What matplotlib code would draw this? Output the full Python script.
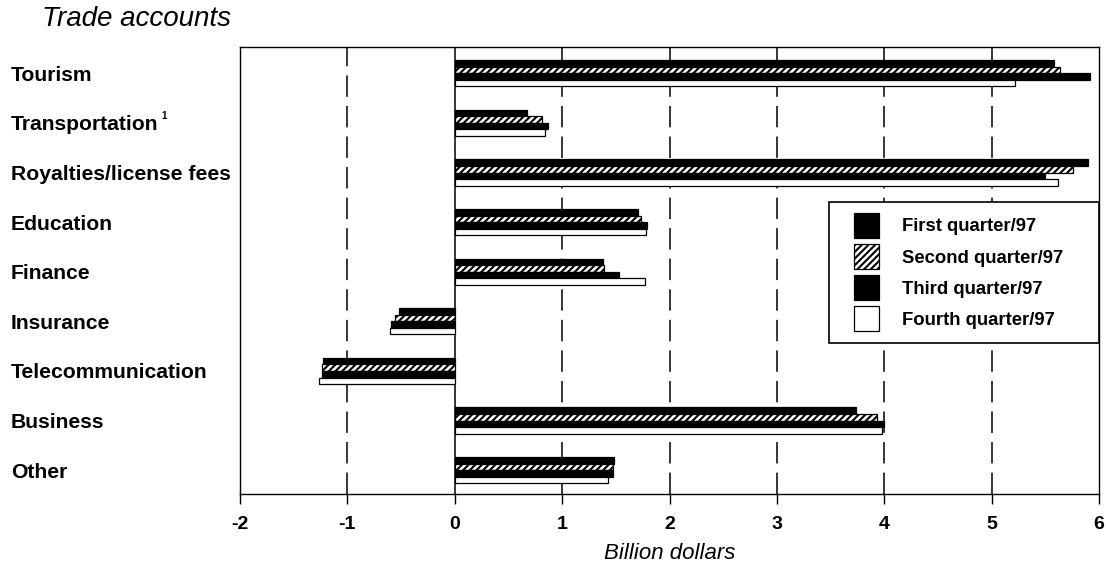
import matplotlib.pyplot as plt
import matplotlib.patches as mpatches
import numpy as np

plt.rcParams['font.family'] = ['Liberation Sans', 'DejaVu Sans']
plt.rcParams['hatch.linewidth'] = 1.5

categories = ['Tourism', 'Transportation', 'Royalties/license fees', 'Education',
              'Finance', 'Insurance', 'Telecommunication', 'Business', 'Other']
series_names = ['First quarter/97', 'Second quarter/97', 'Third quarter/97', 'Fourth quarter/97']

# billion dollars
q1 = [5.58, 0.67, 5.90, 1.71, 1.38, -0.52, -1.23, 3.74, 1.48]
q2 = [5.64, 0.81, 5.76, 1.73, 1.39, -0.56, -1.24, 3.93, 1.47]
q3 = [5.92, 0.87, 5.50, 1.79, 1.53, -0.59, -1.24, 4.00, 1.47]
q4 = [5.22, 0.84, 5.62, 1.78, 1.77, -0.60, -1.26, 3.98, 1.43]

x_ticks = [-2, -1, 0, 1, 2, 3, 4, 5, 6]

fig = plt.figure(figsize=(11.06, 5.68), dpi=100)
ax = fig.add_axes([240 / 1106, 74 / 568, 859 / 1106, 447 / 568])

y = np.arange(len(categories))
h = 0.132
styles = [
    dict(color='black', edgecolor='black'),
    dict(color='white', edgecolor='black', hatch='/////'),
    dict(color='black', edgecolor='black'),
    dict(color='white', edgecolor='black'),
]
for k, (vals, name) in enumerate(zip([q1, q2, q3, q4], series_names)):
    ax.barh(y + (k - 1.5) * h, vals, height=h, label=name, linewidth=0.9,
            zorder=3, **styles[k])

ax.set_xlim(-2, 6)
ax.set_ylim(8.48, -0.53)
ax.set_xticks(x_ticks)
ax.set_xticklabels([str(t) for t in x_ticks], fontsize=14, fontweight='bold')
ax.tick_params(axis='x', direction='out', length=7, width=1, pad=9)
ax.set_yticks([])

for t in x_ticks[1:-1]:
    if t == 0:
        ax.axvline(t, color='black', lw=1.1, zorder=2)
    else:
        ax.axvline(t, color='black', lw=1.1, linestyle=(0, (14, 6)), zorder=1)

for s in ax.spines.values():
    s.set_linewidth(1.0)

for i, c in enumerate(categories):
    ax.text(-0.267, i + 0.04, c, transform=ax.get_yaxis_transform(),
            ha='left', va='center', fontsize=15.2, fontweight='bold')
ax.annotate('1', xy=(164 / 1106, 1 - 116 / 568), xycoords='figure fraction',
            fontsize=7, fontweight='bold', ha='center', va='center')

ax.set_xlabel('Billion dollars', fontsize=16, style='italic', labelpad=7)
fig.text(42 / 1106, 1 - 19 / 568, 'Trade accounts', fontsize=20, style='italic',
         ha='left', va='center')

# legend box drawn separately so the inner padding can match
ax.add_patch(mpatches.Rectangle((0.6857, 0.3378), 0.3143, 0.3154, transform=ax.transAxes,
                                facecolor='white', edgecolor='black', lw=1.2, zorder=5))
leg = ax.legend(loc='upper left', bbox_to_anchor=(0.7148, 0.6286),
                prop={'weight': 'bold', 'size': 13.3}, frameon=False,
                handlelength=1.35, handleheight=1.69, labelspacing=0.34,
                handletextpad=1.25, borderpad=0, borderaxespad=0)
leg.set_zorder(6)

fig.savefig('out.png', dpi=100)
